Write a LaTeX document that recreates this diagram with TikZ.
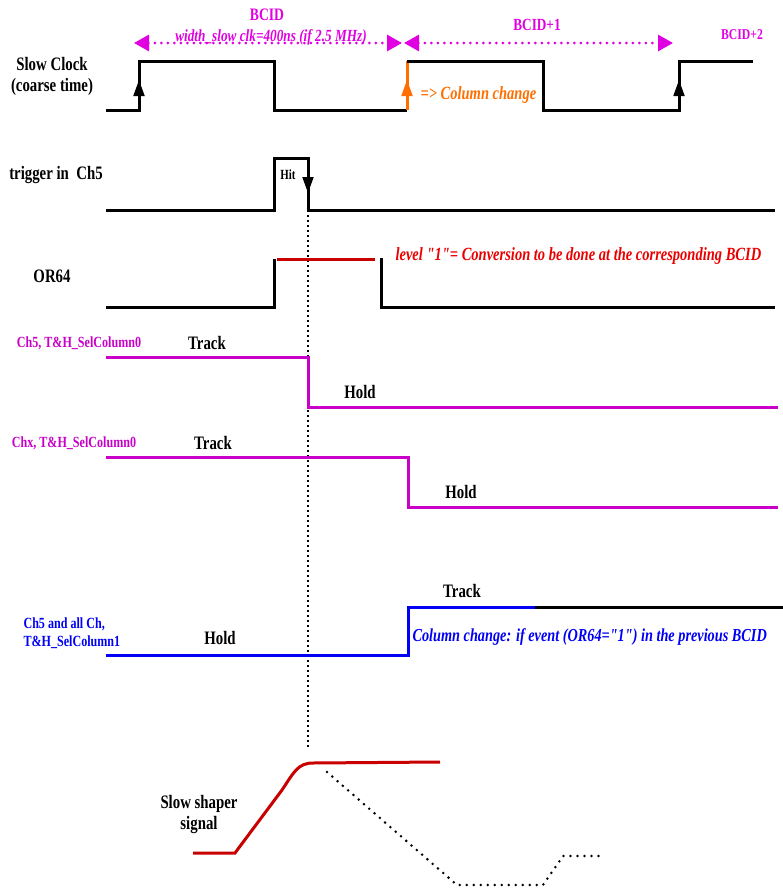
\documentclass[tikz,border=0pt]{standalone}
\usepackage{fontspec}
\setmainfont{Liberation Serif}[FakeStretch=0.78, Ligatures=TeXOff]
\usetikzlibrary{arrows.meta}

\definecolor{bcidmag}{RGB}{225,0,225}
\definecolor{selmag}{RGB}{200,0,200}
\definecolor{chorange}{RGB}{255,110,0}
\definecolor{lvlred}{RGB}{235,0,0}
\definecolor{shred}{RGB}{200,0,0}
\definecolor{selblue}{RGB}{0,0,245}

\tikzset{
  wave/.style={line width=3pt},
  tag/.style={font=\bfseries\fontsize{19}{21}\selectfont},
  chan/.style={font=\bfseries\fontsize{15.5}{18}\selectfont},
  note/.style={font=\bfseries\itshape\fontsize{18.6}{21}\selectfont},
  tip/.style={-{Triangle[width=11pt,length=16pt]}},
  span/.style={bcidmag, line width=3pt, line cap=round, dash pattern=on 0pt off 6.5pt,
    {Triangle[width=16pt,length=15pt]}-{Triangle[width=16pt,length=15pt]}}
}

\begin{document}
\begin{tikzpicture}[x=1pt, y=-1pt]
    \useasboundingbox (0,0) rectangle (783,889);

    % slow clock
    \node[tag, align=center] (clk) at (52,76) {Slow Clock\\(coarse time)};
    \draw[wave] (106,110) -- (139,110) -- (139,61) -- (274,61) -- (274,110) -- (407,110);
    \draw[wave, chorange] (407,110) -- (407,61);
    \draw[wave] (407,61) -- (543,61) -- (543,110) -- (679,110) -- (679,61) -- (753,61);
    \draw[tip, line width=1.8pt] (139,110) -- (139,80);
    \draw[tip, line width=1.8pt, chorange] (407,110) -- (407,80);
    \draw[tip, line width=1.8pt] (679,110) -- (679,80);
    \node[note, chorange, anchor=west] (colchg) at (417,95) {=> Column change};

    \coordinate (b0) at (134,43);
    \coordinate (b1) at (402,43);
    \coordinate (b2) at (404,43);
    \coordinate (b3) at (673,43);
    \draw[span] (b0) -- (b1);
    \draw[span] (b2) -- (b3);
    \node[tag, bcidmag, font=\bfseries\fontsize{17.5}{19}\selectfont] (bcid) at (267,15) {BCID};
    \node[note, bcidmag, font=\bfseries\itshape\fontsize{17}{19}\selectfont] (width) at (271,37) {width\_slow clk=400ns (if 2.5 MHz)};
    \node[tag, bcidmag, font=\bfseries\fontsize{17}{19}\selectfont] (bcid1) at (537,25) {BCID+1};
    \node[tag, bcidmag, font=\bfseries\fontsize{15}{17}\selectfont] (bcid2) at (742,35) {BCID+2};

    % trigger
    \node[tag] (trig) at (56,175) {trigger in\ \ Ch5};
    \draw[wave] (106,210) -- (274,210) -- (274,158) -- (308,158) -- (308,210) -- (775,210);
    \draw[tip, line width=1.8pt] (308,158) -- (308,193);
    \node[font=\bfseries\fontsize{14}{16}\selectfont] (hit) at (288,175) {Hit};
    \draw[dash pattern=on 2pt off 3pt, line width=1.2pt] (308,210) -- (308,748);

    % OR64
    \node[tag] (or) at (52,276) {OR64};
    \draw[wave] (106,307) -- (274,307) -- (274,259);
    \draw[wave, shred] (277,259) -- (375,259);
    \draw[wave] (381,258) -- (381,307) -- (775,307);
    \node[note, lvlred, anchor=west] (lvl) at (392,256) {level "1"= Conversion to be done at the corresponding BCID};

    % T&H column 0, Ch5
    \node[chan, selmag] (sel5) at (79,343) {Ch5, T\&H\_SelColumn0};
    \draw[wave, selmag] (106,357) -- (308,357) -- (308,407) -- (778,407);
    \node[tag] (tr5) at (207,343) {Track};
    \node[tag] (ho5) at (360,392) {Hold};

    % T&H column 0, Chx
    \node[chan, selmag] (selx) at (74,443) {Chx, T\&H\_SelColumn0};
    \draw[wave, selmag] (106,457) -- (408,457) -- (408,507) -- (778,507);
    \node[tag] (trx) at (213,443) {Track};
    \node[tag] (hox) at (461,492) {Hold};

    % T&H column 1
    \node[chan, selblue, align=left, anchor=west] (sel1) at (20,633) {Ch5 and all Ch,\\T\&H\_SelColumn1};
    \draw[wave, selblue] (106,655) -- (408,655) -- (408,607) -- (535,607);
    \draw[wave] (535,607) -- (783,607);
    \node[tag] (tr1) at (462,591) {Track};
    \node[tag] (ho1) at (220,638) {Hold};
    \node[note, selblue, anchor=west, font=\bfseries\itshape\fontsize{18.3}{21}\selectfont] (chg) at (409,637) {Column change: if event (OR64="1") in the previous BCID};

    % slow shaper
    \node[tag, align=center] (shp) at (199,814) {Slow shaper\\signal};
    \draw[wave, shred] (193,853) -- (235,853) -- (282,790) .. controls (294,772) and (298,763) .. (313,763) -- (440,762);
    \draw[line width=2.8pt, line cap=round, dash pattern=on 0pt off 7pt]
      (327,772) -- (457,885) -- (543,885) -- (563,856) -- (605,856);
\end{tikzpicture}
\end{document}
